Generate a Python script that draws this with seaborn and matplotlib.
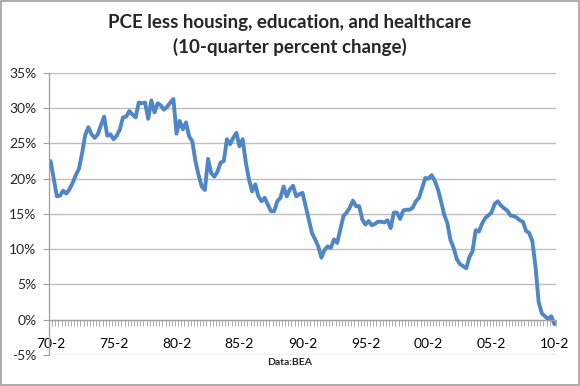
import seaborn as sns
import matplotlib.pyplot as plt
import matplotlib.patches as patches
from matplotlib.ticker import MultipleLocator, FixedLocator, FuncFormatter
import pandas as pd

# 10-quarter percent change, quarterly from 1970Q2 to 2010Q2
pce_change = [
    22.5, 20.0, 17.5, 17.6, 18.3, 17.9, 18.5, 19.4, 20.5, 21.4,
    23.6, 26.2, 27.3, 26.3, 25.8, 26.3, 27.6, 28.8, 26.1, 26.3,
    25.6, 26.1, 27.0, 28.7, 28.8, 29.6, 29.1, 28.7, 30.8, 30.7,
    30.8, 28.5, 31.1, 29.4, 30.7, 30.4, 29.8, 30.2, 30.8, 31.3,
    26.4, 28.2, 27.0, 28.0, 26.0, 25.3, 22.5, 20.5, 18.9, 18.4,
    22.8, 20.8, 20.3, 21.0, 22.3, 22.5, 25.6, 24.9, 25.8, 26.5,
    24.6, 25.6, 22.3, 19.9, 18.2, 19.2, 17.5, 16.8, 17.3, 16.3,
    15.4, 15.4, 16.8, 17.3, 18.9, 17.5, 18.5, 19.0, 17.5, 17.8,
    18.0, 16.1, 14.2, 12.3, 11.4, 10.4, 8.8, 9.9, 10.4, 10.2,
    11.4, 10.9, 12.8, 14.7, 15.2, 15.9, 16.9, 16.1, 16.1, 14.2,
    13.5, 14.0, 13.4, 13.6, 13.9, 13.9, 13.8, 14.1, 13.0, 15.2,
    15.2, 14.3, 15.5, 15.6, 15.6, 15.9, 16.8, 17.3, 18.7, 20.1,
    20.0, 20.5, 19.7, 18.5, 16.8, 14.9, 13.7, 11.3, 10.2, 8.6,
    7.9, 7.6, 7.3, 8.9, 9.7, 12.7, 12.5, 13.6, 14.4, 14.8,
    15.2, 16.4, 16.8, 16.2, 15.8, 15.5, 14.8, 14.7, 14.5, 14.1,
    13.9, 12.6, 12.3, 11.1, 7.5, 2.5, 0.9, 0.5, 0.1, 0.5,
    -0.6,
]
tick_labels = ["70-2", "75-2", "80-2", "85-2", "90-2", "95-2", "00-2", "05-2", "10-2"]

df = pd.DataFrame({"quarter": range(len(pce_change)), "change": pce_change})

sns.set_style("white")
plt.rcParams["font.family"] = ["Lato", "DejaVu Sans"]

fig = plt.figure(figsize=(5.8, 3.86), dpi=100)
ax = fig.add_axes([0.0845, 0.0803, 0.8741, 0.7307])

sns.lineplot(data=df, x="quarter", y="change", ax=ax, color="#4F86C6", linewidth=2.8)

ax.set_xlim(-0.5, len(pce_change) - 0.5)
ax.set_ylim(-5, 35)
ax.yaxis.set_major_locator(MultipleLocator(5))
ax.yaxis.set_major_formatter(FuncFormatter(lambda v, p: f"{int(v)}%"))
ax.grid(axis="y", color="#BEBEBE", linewidth=1)
ax.set_axisbelow(True)

# category axis crosses at 0, tick marks between every quarter
ax.spines["bottom"].set_position(("data", 0))
ax.xaxis.set_major_locator(FixedLocator(range(0, len(pce_change), 20)))
ax.set_xticklabels(tick_labels)
ax.xaxis.set_minor_locator(FixedLocator([i + 0.5 for i in range(-1, len(pce_change))]))
ax.tick_params(axis="x", which="major", length=0, pad=13, labelsize=10, colors="black")
ax.tick_params(axis="x", which="minor", length=4, width=0.6, color="#A0A0A0", direction="out", bottom=True)
ax.tick_params(axis="y", length=4, width=0.8, color="#A0A0A0", direction="out", left=True, labelsize=10, pad=5)

for s in ["top", "right"]:
    ax.spines[s].set_visible(False)
for s in ["left", "bottom"]:
    ax.spines[s].set_color("#A0A0A0")
    ax.spines[s].set_linewidth(0.9)

ax.set_xlabel("")
ax.set_ylabel("")

fig.text(0.5, 0.91, "PCE less housing, education, and healthcare\n(10-quarter percent change)",
         ha="center", va="center", fontsize=13.5, fontweight="bold", linespacing=1.45)
fig.text(0.5, 0.062, "Data:BEA", ha="center", va="center", fontsize=7.5, fontweight="bold")

fig.patches.append(patches.Rectangle((0.002, 0.003), 0.996, 0.994, transform=fig.transFigure,
                                     fill=False, edgecolor="#9E9E9E", linewidth=1.2))

fig.savefig("out.png", dpi=100)
